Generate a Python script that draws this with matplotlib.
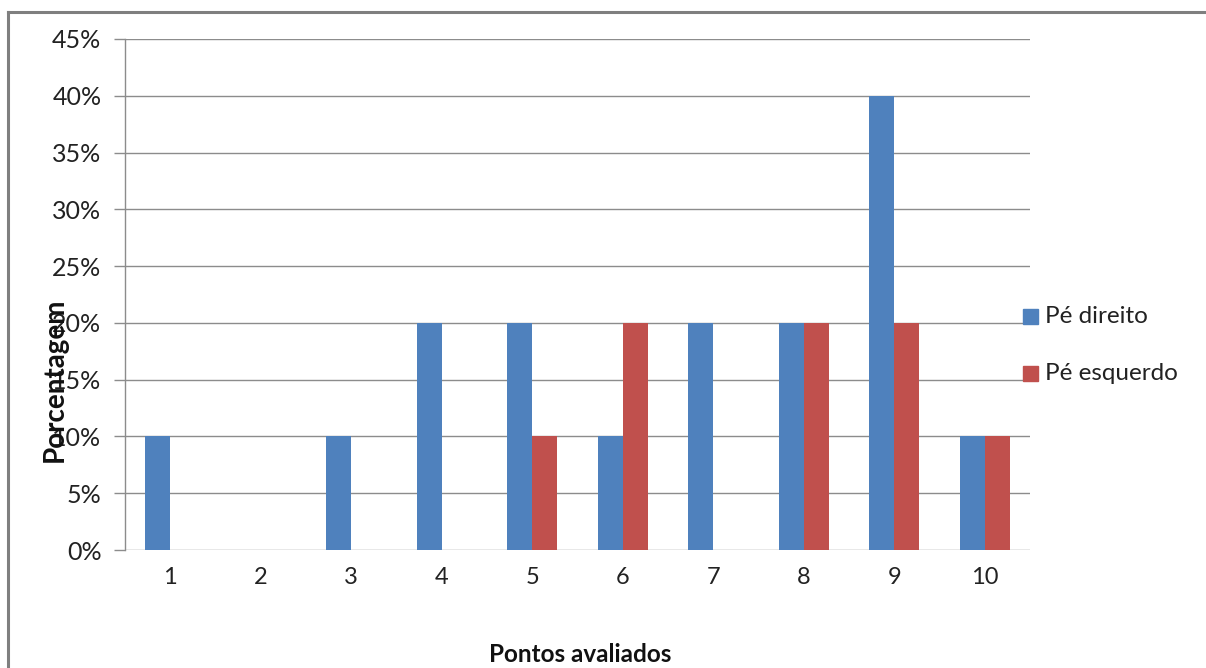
import matplotlib
matplotlib.use('Agg')
import numpy as np
import matplotlib.pyplot as plt
from matplotlib.patches import Rectangle
from matplotlib.lines import Line2D

points = ['1', '2', '3', '4', '5', '6', '7', '8', '9', '10']
pe_direito = [10, 0, 10, 20, 20, 10, 20, 20, 40, 10]
pe_esquerdo = [0, 0, 0, 0, 10, 20, 0, 20, 20, 10]
series_names = ['Pé direito', 'Pé esquerdo']
y_ticks = [0, 5, 10, 15, 20, 25, 30, 35, 40, 45]

BLUE = '#4F81BD'
RED = '#C0504D'
GRID = '#8C8C8C'

plt.rcParams['font.family'] = ['Lato', 'DejaVu Sans']

W, H = 1206, 668
fig = plt.figure(figsize=(W / 100, H / 100), dpi=100)

# outer chart border (only top and left visible)
fig.add_artist(Line2D([8 / W, 8 / W], [0, 1 - 12 / H], color='#7F7F7F', lw=2.2,
                      transform=fig.transFigure))
fig.add_artist(Line2D([8 / W, 1], [1 - 12 / H, 1 - 12 / H], color='#7F7F7F', lw=2.2,
                      transform=fig.transFigure))

left, right, top, bottom = 125, 1030, 39, 550
ax = fig.add_axes([left / W, 1 - bottom / H, (right - left) / W, (bottom - top) / H])

x = np.arange(len(points))
bw = 0.275
ax.bar(x - bw / 2, pe_direito, bw, color=BLUE, zorder=3, label=series_names[0])
ax.bar(x + bw / 2, pe_esquerdo, bw, color=RED, zorder=3, label=series_names[1])

ax.set_xlim(-0.5, len(points) - 0.5)
ax.set_ylim(0, 45)
ax.set_yticks(y_ticks)
ax.set_yticklabels([f'{v}%' for v in y_ticks], fontsize=18, color='#222222')
ax.set_xticks(x)
ax.set_xticklabels(points, fontsize=17, color='#222222')
ax.tick_params(axis='x', length=0, pad=12)
ax.tick_params(axis='y', length=8, width=1, color=GRID, pad=9)
ax.yaxis.grid(True, color=GRID, lw=1, zorder=0)
for s in ['top', 'right', 'bottom']:
    ax.spines[s].set_visible(False)
ax.spines['left'].set_color(GRID)
ax.spines['left'].set_linewidth(1)

fig.text(55 / W, 1 - 380 / H, 'Porcentagem', rotation=90, ha='center', va='center',
         fontsize=20, fontweight='bold', color='#111111')
fig.text(580 / W, 1 - 655 / H, 'Pontos avaliados', ha='center', va='center',
         fontsize=17.5, fontweight='bold', color='#111111')

# legend
for i, (name, c) in enumerate(zip(series_names, [BLUE, RED])):
    yc = [316, 373][i]
    fig.add_artist(Rectangle((1023 / W, 1 - (yc + 8) / H), 15 / W, 15 / H, color=c,
                             transform=fig.transFigure))
    fig.text(1045 / W, 1 - yc / H, name, ha='left', va='center', fontsize=17.5,
             color='#222222')

fig.savefig('out.png', dpi=100)
